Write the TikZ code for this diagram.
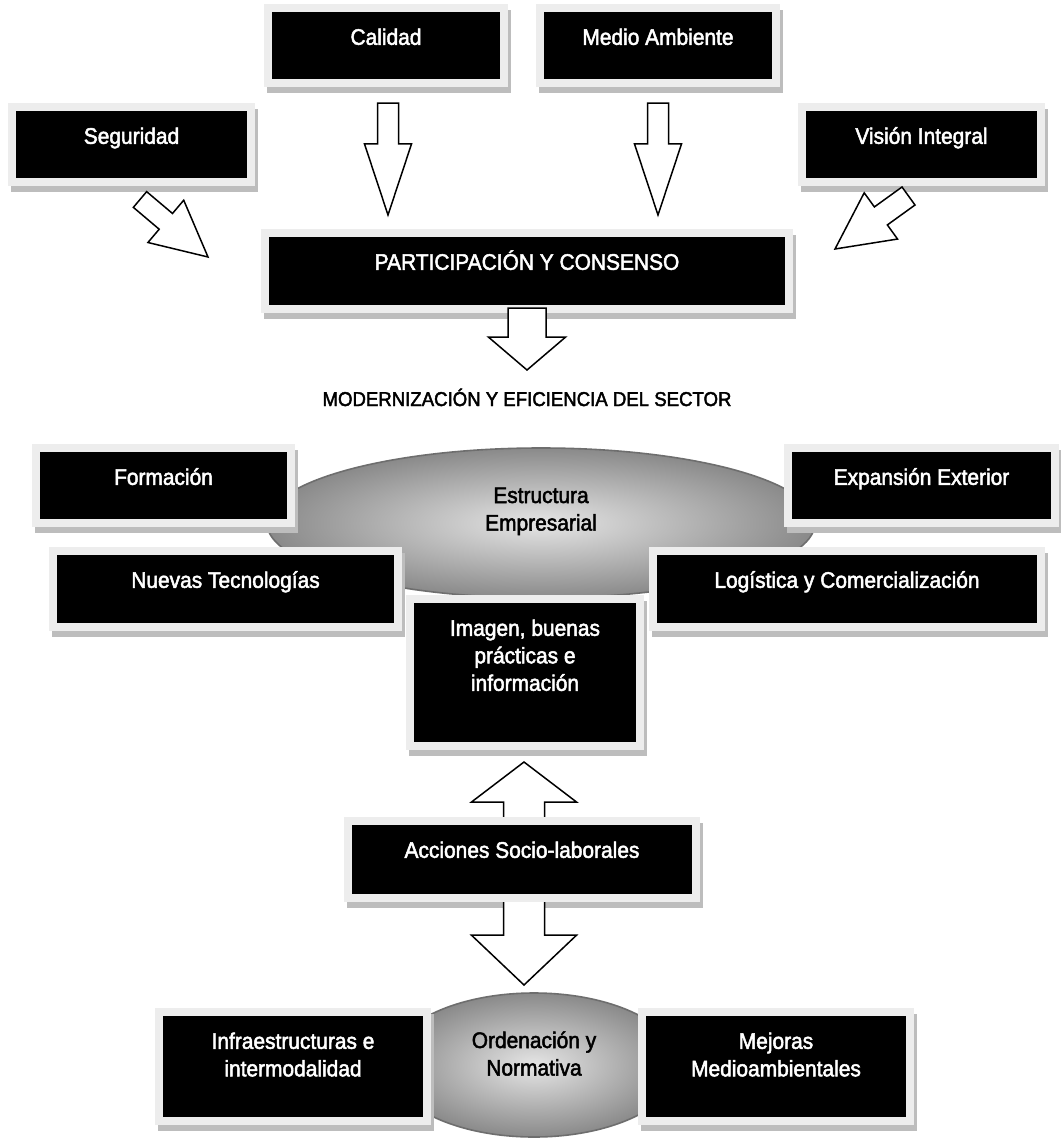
\documentclass[tikz,border=0pt]{standalone}
\usepackage{fontspec}
\setmainfont{Liberation Sans}[FakeStretch=0.93,FakeBold=2.2]
\usetikzlibrary{calc,fit,shapes.geometric}

\definecolor{framegray}{HTML}{EDEDED}
\definecolor{shadegray}{HTML}{BDBDBD}
\definecolor{rimgray}{HTML}{6E6E6E}

\newcommand\boxfont{\fontsize{22.5}{27.5}\selectfont}

\tikzset{
  face/.style={fill=black, inner sep=0pt},
  caption/.style={anchor=base, inner sep=0pt, text=white, font=\boxfont},
  darkcaption/.style={caption, text=black},
  barrow/.style={fill=white, draw=black, line width=1.5pt, line join=miter},
  oval/.style={ellipse, draw=rimgray, line width=1.6pt, inner sep=0pt,
    shading=radial, inner color=black!10, outer color=black!46},
}

% a black panel with a light frame and a soft drop shadow; caption near the top
\newcommand\panel[6]{% name, x1, y1, x2, y2 of the black face, caption
  \fill[shadegray] (#2-5,#3-2) rectangle (#4+11,#5+14);
  \fill[framegray] (#2-8,#3-8) rectangle (#4+8,#5+8);
  \node[face, fit={(#2,#3) (#4,#5)}] (#1) {};
  \node[caption] (#1-text) at ($(#1.north)+(0,33)$)
    {\begin{tabular}[t]{@{}c@{}}#6\end{tabular}};
}

% hollow block arrow: tail, tip, half shaft width, half head width,
% shoulder position (fraction of the length), closing of the tail edge
\newcommand\blockarrow[6]{%
  \coordinate (shoulder) at ($(#1)!#5!(#2)$);
  \filldraw[barrow] ($(#1)!#3pt!90:(#2)$) -- ($(shoulder)!#3pt!90:(#2)$)
    -- ($(shoulder)!#4pt!90:(#2)$) -- (#2)
    -- ($(shoulder)!#4pt!-90:(#2)$) -- ($(shoulder)!#3pt!-90:(#2)$)
    -- ($(#1)!#3pt!-90:(#2)$) #6;
}

\begin{document}
\begin{tikzpicture}[x=1pt,y=-1pt]
  \fill[white] (0,0) rectangle (1060,1140);
  \useasboundingbox (0,0) rectangle (1060,1140);

  % upper row of themes
  \panel{calidad}{272}{12}{500}{79}{Calidad}
  \panel{medio}{544}{12}{772}{79}{Medio Ambiente}
  \panel{seguridad}{16}{111}{247}{178}{Seguridad}
  \panel{vision}{806}{111}{1037}{178}{Visión Integral}
  \panel{participacion}{269}{237}{785}{305}{PARTICIPACIÓN Y CONSENSO}

  % arrows into the central box
  \coordinate (calidad-tail) at (388,103);
  \coordinate (calidad-tip) at (388,215);
  \coordinate (medio-tail) at (658,103);
  \coordinate (medio-tip) at (658,215);
  \coordinate (seguridad-tail) at (140,199.5);
  \coordinate (seguridad-tip) at (208,257);
  \coordinate (vision-tail) at (908.5,196);
  \coordinate (vision-tip) at (835,249);
  \coordinate (participacion-tail) at (527,308);
  \coordinate (participacion-tip) at (527,370);
  \blockarrow{calidad-tail}{calidad-tip}{10.5}{23.5}{0.366}{-- cycle}
  \blockarrow{medio-tail}{medio-tip}{10.5}{23.5}{0.366}{-- cycle}
  \blockarrow{seguridad-tail}{seguridad-tip}{10.3}{27.7}{0.38}{-- cycle}
  \blockarrow{vision-tail}{vision-tip}{11.1}{28.5}{0.376}{-- cycle}
  \blockarrow{participacion-tail}{participacion-tip}{19}{38.5}{0.47}{-- cycle}

  \node[darkcaption, font=\fontsize{20}{25}\selectfont] (modernizacion)
    at (527,406) {MODERNIZACIÓN Y EFICIENCIA DEL SECTOR};

  % business structure with the surrounding lines of action
  \node[oval, minimum width=548pt, minimum height=150pt] (estructura) at (541,523) {};
  \node[darkcaption] (estructura-text) at (541,503)
    {\begin{tabular}[t]{@{}c@{}}Estructura\\Empresarial\end{tabular}};

  \panel{formacion}{40}{452}{287}{519}{Formación}
  \panel{expansion}{792}{452}{1051}{519}{Expansión Exterior}
  \panel{nuevas}{57}{555}{394}{623}{Nuevas Tecnologías}
  \panel{logistica}{657}{555}{1037}{623}{Logística y Comercialización}
  \panel{imagen}{414}{603}{636}{742}{Imagen, buenas\\prácticas e\\información}

  % social and labour actions, linked both ways
  \coordinate (acciones-up-tail) at (524,826);
  \coordinate (acciones-up-tip) at (524,762);
  \blockarrow{acciones-up-tail}{acciones-up-tip}{20.5}{52.5}{0.375}{}
  \panel{acciones}{352}{825}{692}{894}{Acciones Socio-laborales}
  \coordinate (acciones-down-tail) at (524,902);
  \coordinate (acciones-down-tip) at (524,985);
  \blockarrow{acciones-down-tail}{acciones-down-tip}{20.5}{52.5}{0.4}{}

  % regulation between infrastructure and environment
  \node[oval, minimum width=290pt, minimum height=144pt] (ordenacion) at (534,1065) {};
  \node[darkcaption] (ordenacion-text) at (534,1048)
    {\begin{tabular}[t]{@{}c@{}}Ordenación y\\Normativa\end{tabular}};
  \panel{infra}{163}{1016}{423}{1117}{Infraestructuras e\\intermodalidad}
  \panel{mejoras}{646}{1016}{906}{1117}{Mejoras\\Medioambientales}
\end{tikzpicture}
\end{document}
